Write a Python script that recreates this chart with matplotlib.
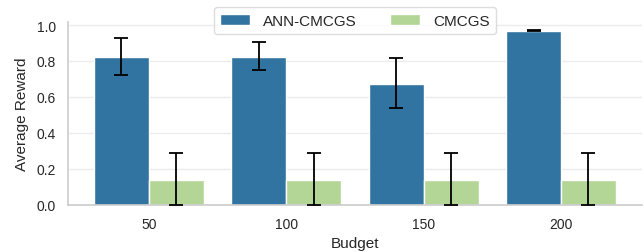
import numpy as np
import matplotlib
matplotlib.use('Agg')
import matplotlib.pyplot as plt
import seaborn as sns

budgets = ['50', '100', '150', '200']
methods = ['ANN-CMCGS', 'CMCGS']
ann_mean = [0.82, 0.82, 0.672, 0.965]
ann_lo = [0.72, 0.75, 0.539, 0.965]
ann_hi = [0.928, 0.904, 0.817, 0.972]
cm_mean = [0.139, 0.139, 0.139, 0.139]
cm_lo = [0.0, 0.0, 0.0, 0.0]
cm_hi = [0.287, 0.287, 0.287, 0.287]
colors = ['#3274a1', '#b3d595']

sns.set_style('whitegrid')
plt.rcParams['font.family'] = ['Liberation Sans', 'DejaVu Sans']

fig = plt.figure(figsize=(6.44, 2.53), dpi=100)
ax = fig.add_axes([0.105, 0.186, 0.892, 0.724])

x = np.arange(len(budgets))
w = 0.4
series = [(ann_mean, ann_lo, ann_hi), (cm_mean, cm_lo, cm_hi)]
for k, (m, lo, hi) in enumerate(series):
    pos = x + (k - 0.5) * w
    m = np.array(m)
    err = [m - np.array(lo), np.array(hi) - m]
    ax.bar(pos, m, width=w, color=colors[k], edgecolor='white', linewidth=1,
           label=methods[k], zorder=2)
    ax.errorbar(pos, m, yerr=err, fmt='none', ecolor='black', elinewidth=1.3,
                capsize=4.8, capthick=1.3, zorder=3, clip_on=False)

ax.set_xlim(-0.59, 3.59)
ax.set_ylim(0, 1.018)
ax.set_xticks(x)
ax.set_xticklabels(budgets)
ax.set_yticks(np.arange(0, 1.01, 0.2))
ax.set_yticklabels(['%.1f' % v for v in np.arange(0, 1.01, 0.2)])
ax.tick_params(labelsize=10, colors='#262626', length=0)
ax.tick_params(axis='x', pad=8.5)
ax.tick_params(axis='y', pad=8.5)
ax.set_xlabel('Budget', fontsize=11, color='#262626', labelpad=4)
ax.set_ylabel('Average Reward', fontsize=11, color='#262626', labelpad=5)
ax.grid(axis='x', visible=False)
ax.grid(axis='y', color='#ebebeb', linewidth=1)
ax.set_axisbelow(True)
sns.despine(ax=ax)
for s in ['left', 'bottom']:
    ax.spines[s].set_color('#cccccc')
    ax.spines[s].set_linewidth(1.2)

ax.legend(loc='upper center', bbox_to_anchor=(0.5, 1.12), ncol=2, fontsize=11,
          handlelength=2.0, handletextpad=0.85, columnspacing=2.15,
          frameon=True, edgecolor='#d5d5d5')

fig.savefig('out.png', dpi=100)
